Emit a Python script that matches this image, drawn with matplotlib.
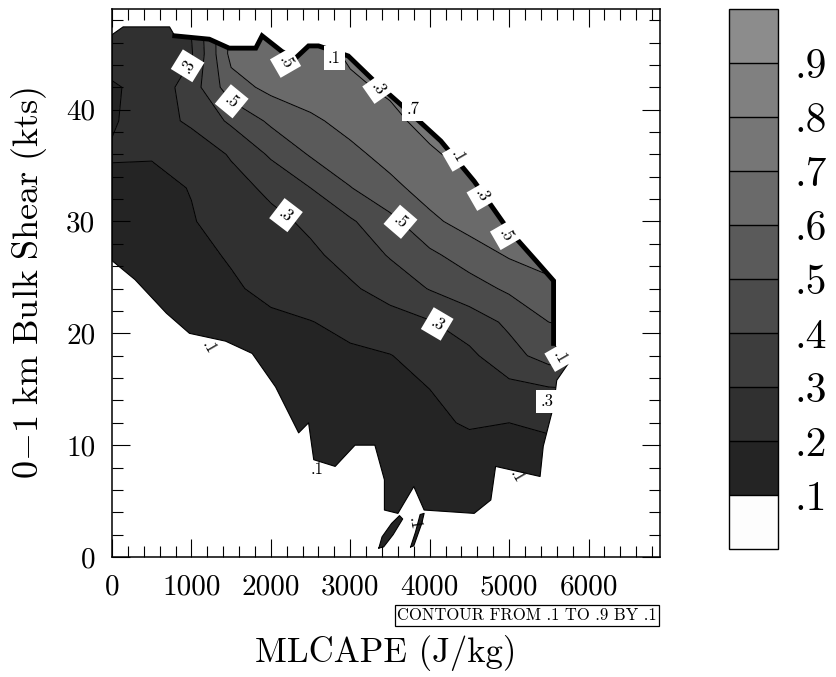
import numpy as np
import matplotlib
matplotlib.use("Agg")
import matplotlib.pyplot as plt
from matplotlib.path import Path
from matplotlib.patches import PathPatch

plt.rcParams['font.family'] = 'cmr10'
plt.rcParams['mathtext.fontset'] = 'cm'
plt.rcParams['axes.formatter.use_mathtext'] = True

# grid of the probability field (MLCAPE columns, shear rows)
cape = [0, 500, 1000, 1500, 2000, 2500, 3000, 3500, 4000, 4500, 5000, 5500, 6000, 6500]
shear = [0, 3, 6, 9, 12, 15, 18, 21, 24, 27, 30, 33, 36, 39, 42, 45, 48]

prob_s00 = [.15, .15, .15, .15, .15, .15, .15, .16, .16, .16, .16, .16, .16, .16]
prob_s03 = [.15, .15, .15, .15, .15, .15, .15, .16, .16, .16, .16, .16, .16, .16]
prob_s06 = [.15, .15, .15, .15, .15, .15, .16, .16, .17, .17, .17, .17, .17, .17]
prob_s09 = [.14, .14, .14, .15, .15, .16, .16, .17, .18, .18, .18, .18, .18, .18]
prob_s12 = [.13, .13, .14, .14, .15, .16, .17, .18, .19, .205, .20, .21, .21, .21]
prob_s15 = [.13, .13, .14, .14, .15, .16, .17, .185, .20, .24, .27, .29, .30, .30]
prob_s18 = [.12, .13, .14, .15, .16, .17, .185, .197, .236, .279, .366, .44, .45, .45]
prob_s21 = [.13, .14, .155, .17, .185, .197, .225, .259, .293, .35, .418, .50, .52, .52]
prob_s24 = [.14, .15, .17, .19, .219, .253, .286, .34, .405, .458, .517, .58, .60, .60]
prob_s27 = [.15, .16, .18, .207, .244, .281, .336, .408, .48, .547, .61, .63, .65, .65]
prob_s30 = [.16, .17, .195, .233, .272, .32, .387, .473, .578, .64, .66, .67, .67, .67]
prob_s33 = [.17, .18, .203, .26, .323, .40, .496, .574, .64, .67, .68, .68, .68, .68]
prob_s36 = [.21, .205, .231, .31, .414, .509, .574, .634, .691, .72, .72, .72, .72, .72]
prob_s39 = [.19, .249, .32, .417, .519, .581, .635, .685, .72, .72, .72, .72, .72, .72]
prob_s42 = [.19, .23, .35, .557, .627, .657, .688, .71, .72, .72, .72, .72, .72, .72]
prob_s45 = [.24, .27, .29, .63, .64, .67, .71, .72, .72, .72, .72, .72, .72, .72]
prob_s48 = [.26, .28, .31, .62, .65, .68, .72, .72, .72, .72, .72, .72, .72, .72]

# edge of the sampled region
bnd_cape = [0, 140, 725, 790, 1225, 1475, 1810, 1890, 2140, 2310, 2475, 2600, 2975, 3310,
            3725, 4140, 4560, 4975, 5350, 5560, 5560, 5745, 5600, 5560, 5430, 5390, 4830,
            4770, 4560, 3930, 3800, 3600, 3430, 3430, 3310, 3060, 2810, 2540, 2475, 2350,
            2060, 1765, 1430, 975, 685, 290, 0]
bnd_shear = [46.7, 47.4, 47.4, 46.6, 46.3, 45.5, 45.5, 46.6, 45.2, 44.6, 45.7, 45.7, 44.8, 42.5,
             39.9, 37.2, 33.6, 29.4, 26.4, 24.7, 19.1, 17.3, 15.8, 13.5, 9.9, 7.2, 8.1,
             5.1, 3.9, 4.2, 6.3, 3.9, 4.2, 6.9, 10.0, 10.0, 8.1, 8.7, 12.0, 11.1,
             15.2, 18.2, 19.3, 20.0, 21.8, 24.8, 26.5]
isl1_cape = [3360, 3420, 3540, 3660, 3620, 3520, 3400]
isl1_shear = [0.8, 0.9, 2.0, 3.4, 3.7, 3.0, 1.8]
isl2_cape = [3760, 3800, 3900, 3930, 3880, 3820]
isl2_shear = [0.9, 1.0, 3.0, 3.9, 3.8, 2.2]

levels = [0, .1, .2, .3, .4, .5, .6, .7, .8, .9, 1.0]
fills = ['#fdfdfd', '#242424', '#303030', '#3d3d3d', '#4b4b4b', '#5a5a5a',
         '#6a6a6a', '#767676', '#808080', '#8c8c8c']

fig = plt.figure(figsize=(8.37, 6.77), dpi=100, facecolor='white')
ax = fig.add_axes([112/837, 1-557/677, 548/837, 548/677])
cax = fig.add_axes([729/837, 1-549/677, 49/837, 540/677])

Z = np.array([prob_s00, prob_s03, prob_s06, prob_s09, prob_s12, prob_s15, prob_s18,
              prob_s21, prob_s24, prob_s27, prob_s30, prob_s33, prob_s36, prob_s39,
              prob_s42, prob_s45, prob_s48])
X, Y = np.meshgrid(cape, shear)

def ring(xs, ys):
    pts = np.column_stack([xs + xs[:1], ys + ys[:1]])
    return Path(pts, closed=True)

clip = Path.make_compound_path(ring(bnd_cape, bnd_shear), ring(isl1_cape, isl1_shear),
                               ring(isl2_cape, isl2_shear))
clip_patch = PathPatch(clip, transform=ax.transData, facecolor='none', edgecolor='none')
ax.add_patch(clip_patch)

cf = ax.contourf(X, Y, Z, levels=levels, colors=fills)
cf.set_clip_path(clip_patch)

fmt = lambda v: ('%.1f' % v).lstrip('0')
lab_pos = {.3: [(935, 44.0), (2225, 30.9), (4100, 20.9)],
           .5: [(1495, 40.6), (3600, 29.7)]}
for lev in levels[2:10]:
    cs = ax.contour(X, Y, Z, levels=[lev], colors='black', linewidths=0.7)
    cs.set_clip_path(clip_patch)
    if lev in lab_pos:
        txts = ax.clabel(cs, manual=lab_pos[lev], inline=True, fmt=fmt, fontsize=12)
        for t in txts:
            t.set_bbox(dict(boxstyle='square,pad=0.3', fc='white', ec='none'))

# outline and the stacked edge lines
for xs, ys in [(bnd_cape, bnd_shear), (isl1_cape, isl1_shear), (isl2_cape, isl2_shear)]:
    ax.plot(xs + xs[:1], ys + ys[:1], color='black', lw=0.8)
ax.plot(bnd_cape[3:21], bnd_shear[3:21], color='black', lw=3.5, solid_joinstyle='miter')

edge_labels = [('.5', 2185, 44.2, -60, True), ('.1', 2800, 44.6, 0, True),
               ('.3', 3350, 41.9, -55, True), ('.7', 3790, 40.0, 0, True),
               ('.1', 4350, 35.8, -60, True), ('.3', 4660, 32.3, -60, True),
               ('.5', 4955, 28.8, -60, True), ('.1', 5640, 17.9, -60, True),
               ('.3', 5475, 13.9, 0, True), ('.1', 1225, 18.8, -60, False),
               ('.1', 2580, 7.8, 0, False), ('.1', 3810, 3.0, -80, False),
               ('.1', 5100, 7.2, -60, False)]
for s, x, y, rot, boxed in edge_labels:
    t = ax.text(x, y, s, fontsize=12, rotation=rot, ha='center', va='center')
    if boxed:
        t.set_bbox(dict(boxstyle='square,pad=0.25', fc='white', ec='none'))

ax.set_xlim(0, 6900)
ax.set_ylim(0, 49)
ax.set_xticks(range(0, 6001, 1000))
ax.set_xticklabels(['0', '1000', '2000', '3000', '4000', '5000', '6000'])
ax.set_xticks(range(0, 6900, 200), minor=True)
ax.set_yticks([0, 10, 20, 30, 40])
ax.set_yticklabels(['0', '10', '20', '30', '40'])
ax.set_yticks(range(0, 49, 2), minor=True)
ax.tick_params(which='both', direction='in', top=True, right=True, width=0.8,
               labelsize=21)
ax.tick_params(which='major', length=13)
ax.tick_params(which='minor', length=8)
ax.tick_params(axis='x', pad=12)
ax.tick_params(axis='y', pad=12)
for sp in ax.spines.values():
    sp.set_linewidth(1.1)

ax.set_xlabel('MLCAPE (J/kg)', fontsize=25)
ax.xaxis.set_label_coords(0.5, -0.142)
ax.set_ylabel(r'$\mathrm{0{-}1\ km\ Bulk\ Shear\ (kts)}$', fontsize=26)
ax.yaxis.set_label_coords(-0.115, 0.5)

ax.text(1 - 3/548, -0.093, 'CONTOUR FROM .1 TO .9 BY .1', transform=ax.transAxes,
        ha='right', va='top', fontsize=12,
        bbox=dict(boxstyle='square,pad=0.15', fc='white', ec='black', lw=0.9))

cb = fig.colorbar(cf, cax=cax, ticks=levels[1:10], drawedges=True)
cb.ax.set_yticklabels([fmt(v) for v in levels[1:10]])
cb.ax.tick_params(length=0, pad=12, labelsize=30)
cb.outline.set_linewidth(1.0)
cb.dividers.set_linewidth(1.0)

fig.savefig('out.png', dpi=100, facecolor='white')
